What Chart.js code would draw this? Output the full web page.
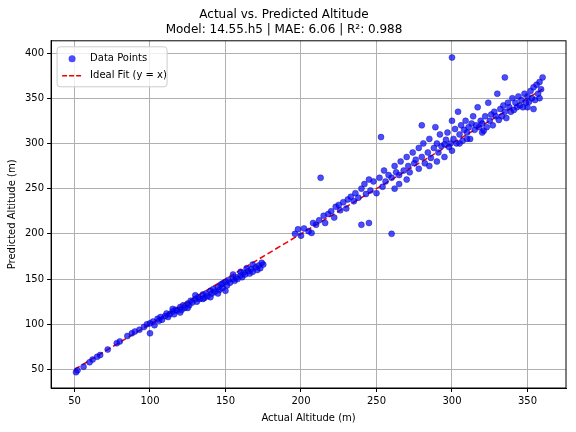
<!DOCTYPE html>
<html><head><meta charset="utf-8">
<script src="https://cdn.jsdelivr.net/npm/chart.js@4.4.0/dist/chart.umd.min.js"></script>
<style>html,body{margin:0;background:#fff}#c{display:block}</style>
</head><body>
<div style="width:576px;height:432px"><canvas id="c"></canvas></div>
<script>
// points: [actual, predicted]
const points = [
[51,47],[52,49],[56,53],[60,58],[62,61],[65,64],[67,66],[72,72],[78,79],[80,81],[85,87],[88,90],[90,92],[93,94],[96,97],[98,100],[100,90],[100,101],[102,103],[103,99],[105,106],[106,104],[107,108],[108,105],[110,109],[111,112],[112,108],[113,111],[115,114],[116,111],[117,116],[118,115],[120,119],[121,116],[122,121],[123,118],[125,123],[126,121],[127,126],[128,124],[130,128],[131,125],[132,130],[133,128],[135,133],[136,129],[137,134],[138,131],[140,137],[141,134],[142,139],[143,136],[145,141],[146,138],[147,144],[148,140],[150,147],[151,143],[152,149],[153,146],[155,150],[156,148],[157,152],[158,150],[160,154],[161,152],[162,157],[163,155],[165,159],[166,156],[167,161],[168,158],[170,163],[171,160],[172,165],[173,162],[175,166],[174,168],[150,137],[148,145],[140,130],[125,118],[120,113],[135,128],[145,134],[160,158],[164,162],[168,166],[155,155],[130,132],[115,117],
[196,200],[198,205],[200,198],[202,206],[205,203],[207,201],[208,212],[210,210],[212,215],[213,262],[215,220],[216,212],[218,222],[220,225],[222,218],[223,230],[225,232],[226,226],[228,235],[230,228],[231,238],[233,241],[235,236],[236,245],[238,240],[240,250],[240,210],[242,255],[243,244],[245,212],[245,260],[246,248],[248,258],[250,245],[252,262],[253,307],[254,252],[255,270],[256,258],[258,265],[260,262],[260,200],[262,275],[263,268],[265,265],[266,280],[268,270],[270,285],[271,275],[272,268],[274,290],[275,278],[276,282],[278,295],[278,272],[280,285],[281,300],[282,278],[284,290],[285,305],[286,284],[288,295],[289,318],[290,300],[291,290],[292,310],[293,297],[295,299],[295,285],[296,304],[297,312],[298,296],[299,300],[300,395],[300,325],[300,292],[301,305],[302,316],[303,300],[304,335],[305,310],[306,320],[307,303],[308,315],[309,325],[310,312],[311,318],[312,305],[313,322],[314,330],[315,315],[316,320],[317,340],[318,318],[319,325],[320,322],[321,314],[322,330],[323,318],[324,345],[325,325],[326,332],[327,320],[328,335],[329,330],[330,355],[331,326],[332,338],[333,330],[334,342],[335,373],[335,335],[336,328],[337,345],[338,340],[339,335],[340,350],[341,337],[342,345],[343,340],[344,352],[345,342],[346,348],[347,340],[348,355],[349,345],[350,352],[351,346],[352,358],[353,350],[354,362],[355,348],[356,365],[357,355],[358,368],[359,360],[360,373],[358,350],[354,338],[350,340],[270,260],[265,255],[285,275],[290,280],[305,300],[310,305],[320,312],[280,320],[262,250]
];
const idealLine = [[50,50],[360,360]];
const xTicks = [50,100,150,200,250,300,350];
const yTicks = [50,100,150,200,250,300,350,400];
const titleLines = ['Actual vs. Predicted Altitude','Model: 14.55.h5 | MAE: 6.06 | R²: 0.988'];

const font = 'DejaVu Sans';
Chart.defaults.font.family = font;
Chart.defaults.color = '#000';

const legendBox = {
  id: 'legendBox',
  afterDraw(chart) {
    const ctx = chart.ctx, a = chart.chartArea;
    ctx.save();
    ctx.strokeStyle = '#000'; ctx.lineWidth = 1;
    ctx.strokeRect(a.left, a.top, a.right - a.left, a.bottom - a.top);
    const x = a.left + 6, y = a.top + 6, w = 110, h = 40;
    ctx.fillStyle = 'rgba(255,255,255,0.8)';
    ctx.strokeStyle = '#ccc';
    ctx.beginPath(); ctx.roundRect(x, y, w, h, 3); ctx.fill(); ctx.stroke();
    ctx.fillStyle = 'rgba(0,0,255,0.7)';
    ctx.beginPath(); ctx.arc(x + 15, y + 12, 3.5, 0, Math.PI * 2); ctx.fill();
    ctx.strokeStyle = '#e00'; ctx.lineWidth = 1.5; ctx.setLineDash([5, 2]);
    ctx.beginPath(); ctx.moveTo(x + 5, y + 29); ctx.lineTo(x + 25, y + 29); ctx.stroke();
    ctx.setLineDash([]);
    ctx.fillStyle = '#000'; ctx.font = '10px ' + font; ctx.textBaseline = 'middle';
    ctx.fillText('Data Points', x + 33, y + 12);
    ctx.fillText('Ideal Fit (y = x)', x + 33, y + 29);
    ctx.restore();
  }
};

new Chart(document.getElementById('c'), {
  type: 'scatter',
  data: {
    datasets: [{
      label: 'Data Points',
      data: points.map(p => ({ x: p[0], y: p[1] })),
      backgroundColor: 'rgba(0,0,255,0.7)',
      borderColor: 'rgba(0,0,170,0.8)',
      pointRadius: 3, borderWidth: 0.5
    }, {
      label: 'Ideal Fit (y = x)',
      type: 'line',
      data: idealLine.map(p => ({ x: p[0], y: p[1] })),
      borderColor: '#e00', borderWidth: 1.5, borderDash: [6, 3],
      pointRadius: 0, fill: false
    }]
  },
  options: {
    animation: false, responsive: true, maintainAspectRatio: false,
    layout: { padding: { left: 2, right: 10, top: 2, bottom: 4 } },
    plugins: {
      legend: { display: false },
      tooltip: { enabled: false },
      title: { display: true, text: titleLines, font: { size: 12, weight: 'normal' }, padding: { top: 6, bottom: 4 }, color: '#000' }
    },
    scales: {
      x: {
        min: 34.5, max: 375.5,
        afterBuildTicks: s => { s.ticks = xTicks.map(v => ({ value: v })); },
        grid: { color: '#b0b0b0', tickColor: '#000', tickLength: 4 },
        border: { color: '#000' },
        ticks: { font: { size: 10 }, color: '#000' },
        title: { display: true, text: 'Actual Altitude (m)', font: { size: 10 }, color: '#000', padding: { top: 2 } }
      },
      y: {
        min: 29.5, max: 413.5,
        afterBuildTicks: s => { s.ticks = yTicks.map(v => ({ value: v })); },
        grid: { color: '#b0b0b0', tickColor: '#000', tickLength: 4 },
        border: { color: '#000' },
        ticks: { font: { size: 10 }, color: '#000' },
        title: { display: true, text: 'Predicted Altitude (m)', font: { size: 10 }, color: '#000' }
      }
    }
  },
  plugins: [legendBox]
});
</script>
</body></html>
